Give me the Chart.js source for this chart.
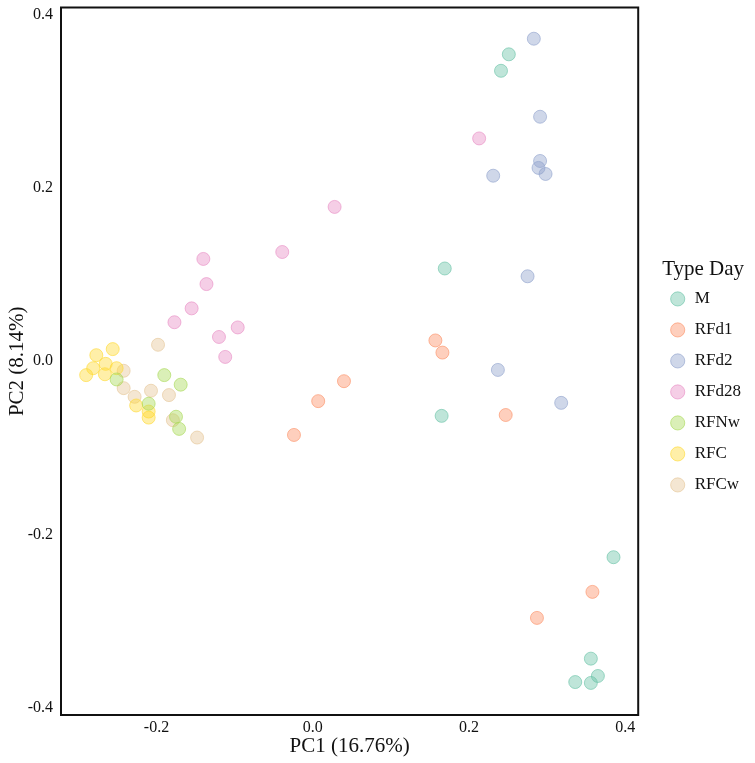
<!DOCTYPE html>
<html>
<head>
<meta charset="utf-8">
<script src="https://cdn.jsdelivr.net/npm/chart.js@4.4.1/dist/chart.umd.min.js"></script>
<style>
  html, body { margin: 0; padding: 0; background: #fff; overflow: hidden; }
  #wrap { width: 755px; height: 763px; }
</style>
</head>
<body>
<div id="wrap"><canvas id="pca"></canvas></div>
<script>
// PCA scores, one pair of arrays per group
const groups = ["M", "RFd1", "RFd2", "RFd28", "RFNw", "RFC", "RFCw"];
const groupColors = ["102,194,165", "252,141,98", "141,160,203", "231,138,195", "166,216,84", "255,217,47", "229,196,148"];

const mPC1 = [0.251, 0.241, 0.169, 0.165, 0.385, 0.356, 0.336, 0.356, 0.365];
const mPC2 = [0.354, 0.335, 0.107, -0.063, -0.226, -0.343, -0.370, -0.371, -0.363];

const rfd1PC1 = [0.040, 0.007, -0.024, 0.157, 0.166, 0.247, 0.358, 0.287];
const rfd1PC2 = [-0.023, -0.046, -0.085, 0.024, 0.010, -0.062, -0.266, -0.296];

const rfd2PC1 = [0.283, 0.291, 0.291, 0.289, 0.298, 0.231, 0.275, 0.237, 0.318];
const rfd2PC2 = [0.372, 0.282, 0.231, 0.223, 0.216, 0.214, 0.098, -0.010, -0.048];

const rfd28PC1 = [0.028, -0.039, -0.140, -0.136, -0.155, -0.177, -0.096, -0.120, -0.112, 0.213];
const rfd28PC2 = [0.178, 0.126, 0.118, 0.089, 0.061, 0.045, 0.039, 0.028, 0.005, 0.257];

const rfnwPC1 = [-0.251, -0.190, -0.169, -0.210, -0.175, -0.171];
const rfnwPC2 = [-0.021, -0.016, -0.027, -0.049, -0.064, -0.078];

const rfcPC1 = [-0.256, -0.277, -0.265, -0.281, -0.290, -0.266, -0.251, -0.226, -0.210, -0.210];
const rfcPC2 = [0.014, 0.007, -0.003, -0.008, -0.016, -0.015, -0.008, -0.051, -0.058, -0.065];

const rfcwPC1 = [-0.198, -0.242, -0.242, -0.228, -0.207, -0.184, -0.179, -0.148];
const rfcwPC2 = [0.019, -0.011, -0.031, -0.041, -0.034, -0.039, -0.068, -0.088];

const xTicks = [-0.2, 0.0, 0.2, 0.4];
const yTicks = [-0.4, -0.2, 0.0, 0.2, 0.4];

const pc1 = [mPC1, rfd1PC1, rfd2PC1, rfd28PC1, rfnwPC1, rfcPC1, rfcwPC1];
const pc2 = [mPC2, rfd1PC2, rfd2PC2, rfd28PC2, rfnwPC2, rfcPC2, rfcwPC2];

const serif = "'Liberation Serif', 'Times New Roman', serif";

function pairUp(xs, ys) {
  return xs.map((x, i) => ({ x: x, y: ys[i] }));
}

const datasets = groups.map((name, i) => ({
  label: name,
  data: pairUp(pc1[i], pc2[i]),
  backgroundColor: `rgba(${groupColors[i]},0.42)`,
  borderColor: `rgba(${groupColors[i]},0.6)`,
  borderWidth: 1,
  pointRadius: 6.5,
  pointHoverRadius: 6.5,
}));

// black box round the plot area
const frame = {
  id: "frame",
  afterDraw(chart) {
    const a = chart.chartArea;
    const ctx = chart.ctx;
    ctx.save();
    ctx.strokeStyle = "#111";
    ctx.lineWidth = 2;
    ctx.strokeRect(a.left, a.top, a.right - a.left, a.bottom - a.top);
    ctx.restore();
  }
};

function noPad(scale) {
  scale.paddingTop = 0;
  scale.paddingBottom = 0;
  scale.paddingLeft = 0;
  scale.paddingRight = 0;
}

new Chart(document.getElementById("pca"), {
  type: "scatter",
  data: { datasets: datasets },
  plugins: [frame],
  options: {
    responsive: true,
    maintainAspectRatio: false,
    animation: false,
    layout: { padding: { top: 3, left: 0, right: 4, bottom: 0 } },
    plugins: {
      tooltip: { enabled: false },
      legend: {
        position: "right",
        title: {
          display: true,
          text: "Type Day",
          color: "#111",
          font: { family: serif, size: 21, lineHeight: 0.85 },
          padding: 0,
        },
        labels: {
          usePointStyle: true,
          pointStyle: "circle",
          boxHeight: 10,
          color: "#111",
          padding: 14,
          font: { family: serif, size: 17 },
        },
      },
    },
    scales: {
      x: {
        type: "linear",
        min: -0.3222,
        max: 0.4166,
        grid: { display: false, drawTicks: false },
        border: { display: false },
        afterBuildTicks: (s) => { s.ticks = xTicks.map(v => ({ value: v })); },
        afterFit: (s) => { s.height = 48; noPad(s); },
        ticks: {
          color: "#111",
          padding: 5,
          font: { family: serif, size: 16, lineHeight: 1 },
          callback: (v) => Number(v).toFixed(1),
        },
        title: {
          display: true,
          text: "PC1 (16.76%)",
          color: "#111",
          font: { family: serif, size: 21, lineHeight: 1 },
          padding: { top: 0, bottom: 6 },
        },
      },
      y: {
        type: "linear",
        min: -0.408,
        max: 0.408,
        grid: { display: false, drawTicks: false },
        border: { display: false },
        afterBuildTicks: (s) => { s.ticks = yTicks.map(v => ({ value: v })); },
        afterFit: (s) => { s.width = 61; noPad(s); },
        ticks: {
          color: "#111",
          padding: 8,
          font: { family: serif, size: 16, lineHeight: 1 },
          callback: (v) => Number(v).toFixed(1),
        },
        title: {
          display: true,
          text: "PC2 (8.14%)",
          color: "#111",
          font: { family: serif, size: 21, lineHeight: 1 },
          padding: { top: 7, bottom: 0 },
        },
      },
      // empty right-hand axis, only keeps a gap before the legend
      gap: {
        type: "linear",
        position: "right",
        grid: { display: false, drawTicks: false },
        border: { display: false },
        ticks: { display: false },
        afterFit: (s) => { s.width = 17; noPad(s); },
      },
    },
  },
});
</script>
</body>
</html>
